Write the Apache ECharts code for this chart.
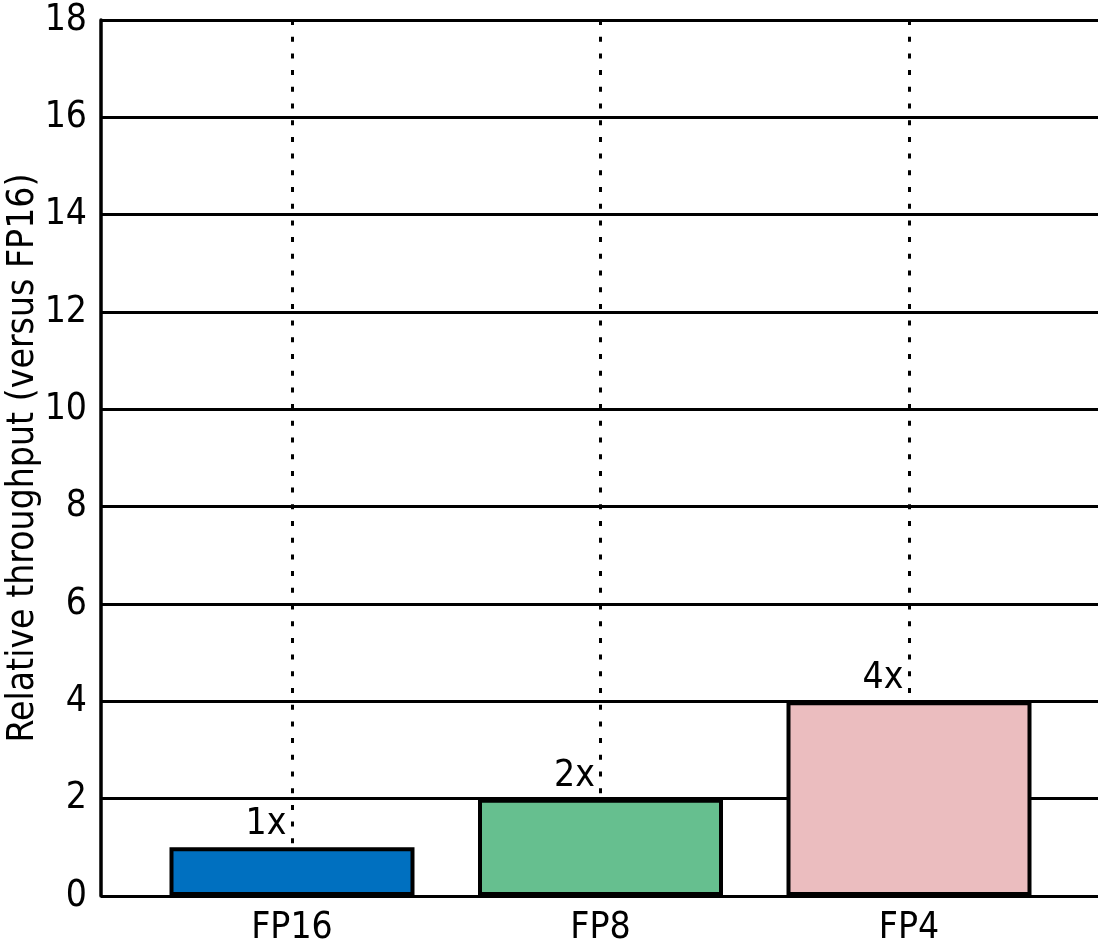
<!DOCTYPE html>
<html lang="en">
<head>
    <meta charset="UTF-8">
    <title>Relative throughput</title>
    <script src="https://cdn.jsdelivr.net/npm/echarts/dist/echarts.min.js"></script>
    <style>
        html, body { margin: 0; padding: 0; background: #fff; }
        #chart { width: 1099px; height: 951px; }
    </style>
</head>
<body>
<div id="chart"></div>
<script>
    // data
    var categories = ['FP16', 'FP8', 'FP4'];
    var throughput = [1, 2, 4];
    var valueLabels = ['1x', '2x', '4x'];
    var barColors = ['#0070c0', '#66bf8f', '#ebbdbf'];

    var FONT = '"Liberation Sans Narrow", "DejaVu Sans Condensed", sans-serif';

    var chart = echarts.init(document.getElementById('chart'));

    chart.setOption({
        animation: false,
        textStyle: { fontFamily: FONT, color: '#000' },
        grid: [
            // frame: y axis + horizontal lines
            { left: 101, right: 1, top: 20, bottom: 55, outerBoundsMode: 'none', containLabel: false },
            // bars: category ticks land on the bar centres
            { left: 292, right: 190, top: 20, bottom: 55, outerBoundsMode: 'none', containLabel: false }
        ],
        xAxis: [
            { gridIndex: 0, type: 'value', min: 0, max: 1, show: false },
            {
                gridIndex: 1,
                type: 'category',
                data: categories,
                boundaryGap: false,
                axisLine: { show: false },
                axisTick: { show: false },
                axisLabel: { fontFamily: FONT, fontSize: 37, color: '#000', margin: 14 },
                splitLine: {
                    show: true,
                    lineStyle: { color: '#000', width: 3, type: [5, 11.7] }
                }
            }
        ],
        yAxis: [
            {
                gridIndex: 0,
                type: 'value',
                min: 0,
                max: 18,
                interval: 2,
                name: 'Relative throughput (versus FP16)',
                nameLocation: 'middle',
                nameGap: 59,
                nameMoveOverlap: false,
                nameTextStyle: { fontFamily: FONT, fontSize: 37, color: '#000' },
                axisLine: { show: true, lineStyle: { color: '#000', width: 3.5 } },
                axisTick: { show: false },
                axisLabel: { fontFamily: FONT, fontSize: 37, color: '#000', margin: 14 },
                splitLine: { show: true, lineStyle: { color: '#000', width: 3 } }
            },
            { gridIndex: 1, type: 'value', min: 0, max: 18, show: false }
        ],
        series: [{
            type: 'bar',
            xAxisIndex: 1,
            yAxisIndex: 1,
            barWidth: 245,
            clip: false,
            data: throughput.map(function (v, i) {
                return { value: v, itemStyle: { color: barColors[i] } };
            }),
            itemStyle: { borderColor: '#000', borderWidth: 4 },
            label: {
                show: true,
                position: 'top',
                distance: 4,
                offset: [-26, 0],
                fontFamily: FONT,
                fontSize: 37,
                fontWeight: 500,
                color: '#000',
                formatter: function (p) { return valueLabels[p.dataIndex]; }
            }
        }]
    });
</script>
</body>
</html>
